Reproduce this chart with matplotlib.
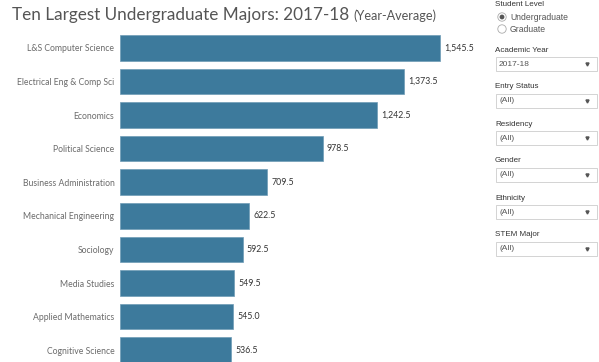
import matplotlib.pyplot as plt
from matplotlib.patches import Rectangle, Circle

majors = ['L&S Computer Science', 'Electrical Eng & Comp Sci', 'Economics',
          'Political Science', 'Business Administration',
          'Mechanical Engineering', 'Sociology', 'Media Studies',
          'Applied Mathematics', 'Cognitive Science']
headcount = [1545.5, 1373.5, 1242.5, 978.5, 709.5, 622.5, 592.5, 549.5,
             545.0, 536.5]

filters = ['Academic Year', 'Entry Status', 'Residency', 'Gender',
           'Ethnicity', 'STEM Major']
filter_values = ['2017-18', '(All)', '(All)', '(All)', '(All)', '(All)']
levels = ['Undergraduate', 'Graduate']

plt.rcParams['font.family'] = ['Lato', 'DejaVu Sans']
BAR = '#3d7a9c'
PANEL = ['Liberation Sans', 'DejaVu Sans']


def main():
    fig = plt.figure(figsize=(5.99, 3.62), dpi=100)

    # bar chart, one px per unit in y set by position
    ax = fig.add_axes([120 / 599, 0, 360 / 599, 332 / 362])
    ypos = list(range(len(majors)))
    bars = ax.barh(ypos, headcount, height=0.76, color=BAR,
                   edgecolor='#6f9bb6', linewidth=0.5)
    ax.set_xlim(0, 1738)
    ax.set_ylim(9.35, -0.53)
    ax.set_yticks(ypos, majors, fontsize=6.2, color='#6b6b6b')
    ax.tick_params(axis='y', length=0, pad=4)
    ax.set_xticks([])
    for s in ax.spines.values():
        s.set_visible(False)
    ax.bar_label(bars, labels=[f'{v:,.1f}' for v in headcount], padding=3,
                 fontsize=6.3, color='#333333')

    # overlay in pixel coordinates for title and filter panel
    ui = fig.add_axes([0, 0, 1, 1], zorder=-1)
    ui.set_xlim(0, 599)
    ui.set_ylim(362, 0)
    ui.axis('off')

    title = ui.text(12, 15, 'Ten Largest Undergraduate Majors: 2017-18',
                    fontsize=12.3, color='#555555', va='center')
    ui.annotate('(Year-Average)', xy=(1, 0), xycoords=title,
                xytext=(3, 1), textcoords='offset points',
                fontsize=9.1, color='#555555', va='bottom')

    ui.text(495, 5, 'Student Level', fontsize=5.8, color='#333333',
            va='center', family=PANEL)
    for i, lvl in enumerate(levels):
        y = 17 + 12 * i
        ui.add_patch(Circle((502, y), 4.2, facecolor='white',
                            edgecolor='#aaaaaa', linewidth=0.6))
        if i == 0:
            ui.add_patch(Circle((502, y), 1.7, color='#555555'))
        ui.text(510, y, lvl, fontsize=6.2, color='#555555', va='center',
                family=PANEL)

    for i, (name, val) in enumerate(zip(filters, filter_values)):
        y = 50 + 37 * i
        ui.text(495, y, name, fontsize=5.8, color='#333333', va='center',
                family=PANEL)
        ui.add_patch(Rectangle((496, y + 7), 101, 14, facecolor='white',
                               edgecolor='#cccccc', linewidth=0.6))
        ui.text(499, y + 14, val, fontsize=6, color='#555555',
                va='center', family=PANEL)
        ui.plot(587, y + 14, marker='v', markersize=2.2, color='#555555')

    fig.savefig('out.png', dpi=100)


if __name__ == '__main__':
    main()
